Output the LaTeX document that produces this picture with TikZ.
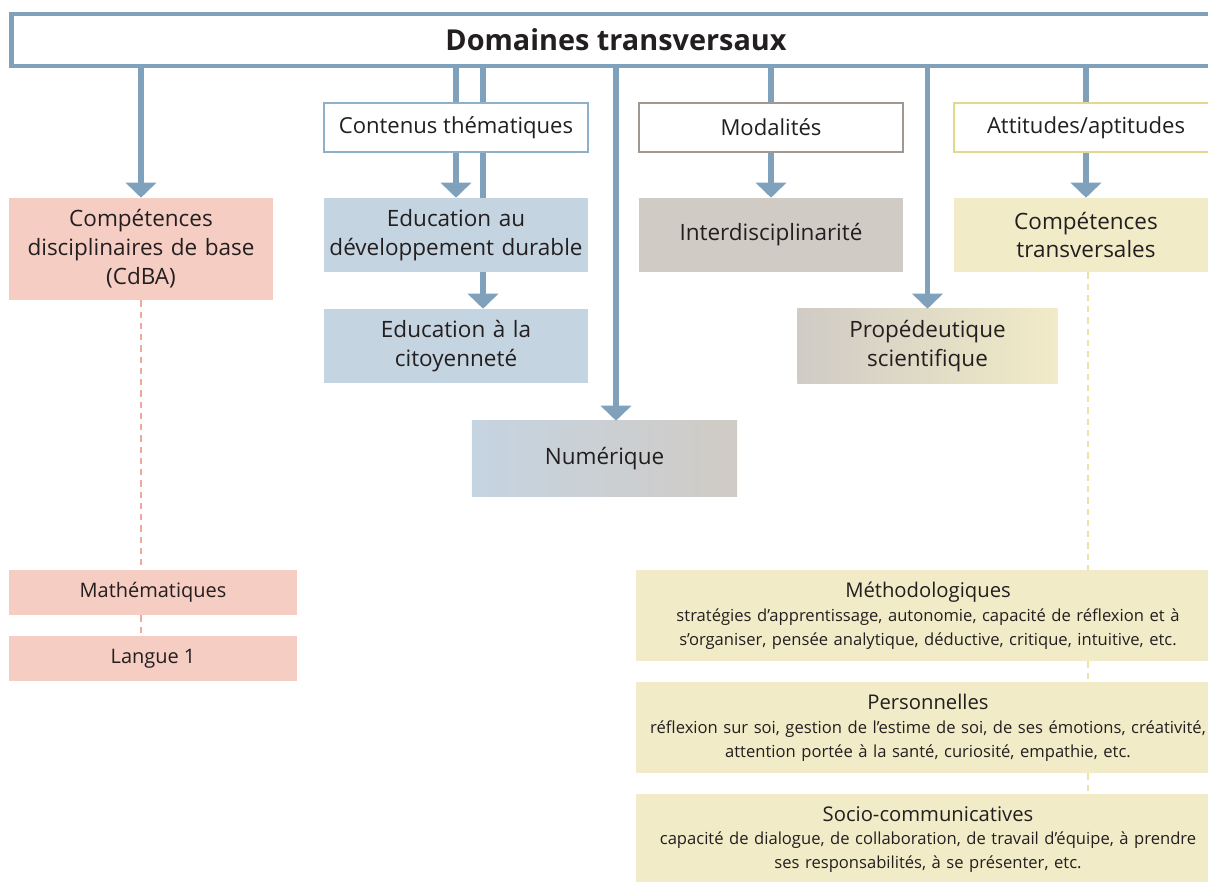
\documentclass[tikz,border=0pt]{standalone}
\usepackage{fontspec}
\setmainfont{Open Sans}
\usetikzlibrary{arrows.meta, positioning, shapes}
\definecolor{SteelBlue}{RGB}{128,161,188}
\definecolor{PinkFill}{RGB}{246,205,195}
\definecolor{BlueFill}{RGB}{197,212,225}
\definecolor{GreyFill}{RGB}{208,203,197}
\definecolor{YellowFill}{RGB}{241,235,199}
\definecolor{BlueLine}{RGB}{143,176,201}
\definecolor{GreyLine}{RGB}{160,152,144}
\definecolor{YellowLine}{RGB}{226,217,140}
\definecolor{PinkDash}{RGB}{240,169,154}
\definecolor{YellowDash}{RGB}{238,227,166}
\definecolor{TextGrey}{RGB}{35,31,32}

\begin{document}
\begin{tikzpicture}[x=0.025cm, y=-0.025cm,
          every node/.style={text=TextGrey},
          bar/.style={rectangle, draw=SteelBlue, line width=3.5pt, fill=white, minimum width=30.2cm, minimum height=1.3cm, font=\fontsize{20.5}{24}\selectfont\bfseries},
          headbox/.style={rectangle, fill=white, line width=0.8pt, minimum width=6.6cm, minimum height=1.225cm, inner sep=0pt, font=\fontsize{15.7}{20}\selectfont},
          midbox/.style={rectangle, minimum width=6.6cm, minimum height=1.85cm, inner sep=0pt, text width=6.5cm, align=center, font=\fontsize{16}{20.6}\selectfont},
          subbox/.style={rectangle, fill=PinkFill, minimum width=7.2cm, minimum height=1.125cm, inner sep=0pt, font=\fontsize{14.2}{17}\selectfont},
          listbox/.style={rectangle, fill=YellowFill, minimum width=14.6cm, minimum height=2.275cm, inner sep=0pt, text width=14.4cm, align=center, font=\fontsize{11.8}{17}\selectfont},
          arrow/.style={-{Triangle[length=0.375cm, width=0.75cm]}, SteelBlue, line width=4.2pt},
          stem/.style={SteelBlue, line width=4.2pt},
          link/.style={line width=1.4pt, dash pattern=on 4.5pt off 3.5pt}
        ]
          \useasboundingbox (0,0) rectangle (1208,881);
          \clip (0,0) rectangle (1208,881);

          \node (bar) [bar] at (616,40) {Domaines transversaux};

          \node (cdba) [midbox, fill=PinkFill, minimum height=2.55cm] at (141,249) {Compétences\\disciplinaires de base\\(CdBA)};
          \node (contenus) [headbox, draw=BlueLine] at (456,127.5) {Contenus thématiques};
          \node (modal) [headbox, draw=GreyLine] at (771,127.5) {Modalités};
          \node (attit) [headbox, draw=YellowLine] at (1086,127.5) {Attitudes/aptitudes};

          \node (edd) [midbox, fill=BlueFill] at (456,235) {Education au\\développement durable};
          \node (cit) [midbox, fill=BlueFill] at (456,346) {Education à la\\citoyenneté};
          \node (interd) [midbox, fill=GreyFill] at (771,235) {Interdisciplinarité};
          \node (comptr) [midbox, fill=YellowFill] at (1086,235) {Compétences\\transversales};
          \node (prop) [midbox, left color=GreyFill, right color=YellowFill, minimum width=6.425cm] at (927.5,346) {Propédeutique\\scientifique};
          \node (num) [midbox, left color=BlueFill, right color=GreyFill, minimum width=6.625cm, minimum height=1.875cm] at (604.5,458.5) {Numérique};

          \node (math) [subbox] at (153,592.5) {Mathématiques};
          \node (langue) [subbox] at (153,658.5) {Langue 1};

          \node (metho) [listbox] at (928,615.5) {{\fontsize{14.4}{17}\selectfont Méthodologiques}\\stratégies d’apprentissage, autonomie, capacité de réflexion et à\\s’organiser, pensée analytique, déductive, critique, intuitive, etc.};
          \node (perso) [listbox] at (928,727.5) {{\fontsize{14.4}{17}\selectfont Personnelles}\\réflexion sur soi, gestion de l’estime de soi, de ses émotions, créativité,\\attention portée à la santé, curiosité, empathie, etc.};
          \node (socio) [listbox] at (928,839.5) {{\fontsize{14.4}{17}\selectfont Socio-communicatives}\\capacité de dialogue, de collaboration, de travail d’équipe, à prendre\\ses responsabilités, à se présenter, etc.};

          \draw [arrow] (bar.south -| cdba.north) -- (cdba.north);
          \draw [stem] (bar.south -| contenus.north) -- (contenus.north);
          \draw [arrow] (contenus.south) -- (edd.north);
          \draw [stem] ([xshift=0.675cm]bar.south -| contenus.north) -- ([xshift=0.675cm]contenus.north);
          \draw [stem] ([xshift=0.675cm]contenus.south) -- ([xshift=0.675cm]edd.north);
          \draw [arrow] ([xshift=0.675cm]edd.south) -- ([xshift=0.675cm]cit.north);
          \draw [arrow] (bar.south) -- (bar.south |- num.north);
          \draw [stem] (bar.south -| modal.north) -- (modal.north);
          \draw [arrow] (modal.south) -- (interd.north);
          \draw [arrow] (bar.south -| prop.north) -- (prop.north);
          \draw [stem] (bar.south -| attit.north) -- (attit.north);
          \draw [arrow] (attit.south) -- (comptr.north);

          \draw [link, PinkDash] (cdba.south) -- (cdba.south |- math.north);
          \draw [link, PinkDash] (math.south -| cdba.south) -- (langue.north -| cdba.south);
          \draw [link, YellowDash] ([xshift=0.05cm]comptr.south) -- ([xshift=0.05cm]comptr.south |- metho.north);
          \draw [link, YellowDash] ([xshift=0.05cm]metho.south -| comptr.south) -- ([xshift=0.05cm]perso.north -| comptr.south);
          \draw [link, YellowDash] ([xshift=0.05cm]perso.south -| comptr.south) -- ([xshift=0.05cm]socio.north -| comptr.south);
        \end{tikzpicture}
\end{document}
